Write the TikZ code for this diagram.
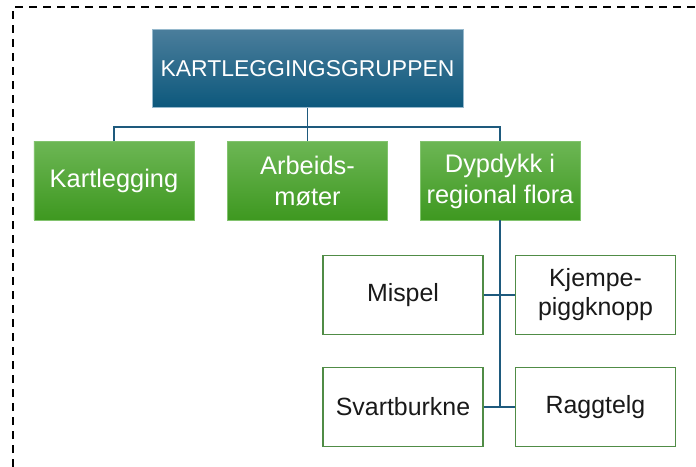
\documentclass[tikz,border=0pt]{standalone}
\usepackage{fontspec}
\setmainfont{Liberation Sans}
\definecolor{topA}{RGB}{74,125,155}
\definecolor{topB}{RGB}{12,88,124}
\definecolor{topEdge}{RGB}{150,185,205}
\definecolor{grA}{RGB}{108,182,84}
\definecolor{grB}{RGB}{62,152,32}
\definecolor{grEdge}{RGB}{130,195,110}
\definecolor{leafEdge}{RGB}{80,140,70}
\definecolor{conn}{RGB}{30,90,125}
\tikzset{
 headbox/.style={draw=topEdge, line width=1pt, top color=topA, bottom color=topB, text=white, minimum width=311bp, minimum height=78bp, inner sep=0pt, font=\fontsize{23}{28}\selectfont},
 groupbox/.style={draw=grEdge, line width=1pt, top color=grA, bottom color=grB, text=white, minimum width=160bp, minimum height=78bp, inner sep=0pt, align=center, font=\fontsize{25.5}{31}\selectfont},
 leafbox/.style={draw=leafEdge, line width=1.5bp, fill=white, text=black!90, minimum width=160bp, minimum height=79bp, inner sep=0pt, align=center, font=\fontsize{25}{29}\selectfont},
 link/.style={draw=conn, line width=1.5bp},
 frame/.style={draw=black, line width=1.8bp, dash pattern=on 8bp off 6bp}
}
\begin{document}
\begin{tikzpicture}[x=1bp,y=-1bp]
\useasboundingbox (0,0) rectangle (696,467);
\draw[frame] (13,467) -- (13,7) -- (696,7);
\node[headbox] (top) at (307.5,69) {KARTLEGGINGSGRUPPEN};
\node[groupbox] (k) at (114,181) {Kartlegging};
\node[groupbox] (a) at (307.5,181) {Arbeids-\\møter};
\node[groupbox] (d) at (500,181) {Dypdykk i\\regional flora};
\node[leafbox] (m) at (403,295) {Mispel};
\node[leafbox] (kj) at (595.5,295) {Kjempe-\\piggknopp};
\node[leafbox] (s) at (403,407) {Svartburkne};
\node[leafbox] (r) at (595.5,407) {Raggtelg};
\coordinate (bus) at (307.5,127);
\coordinate (j2) at (500,407);
\draw[link] (top.south) -- (bus);
\draw[link] (k.north) |- (bus) -| (d.north);
\draw[link] (bus) -- (a.north);
\draw[link] (d.south) -- (j2);
\draw[link] (m.east) -- (kj.west);
\draw[link] (s.east) -- (r.west);
\end{tikzpicture}
\end{document}
